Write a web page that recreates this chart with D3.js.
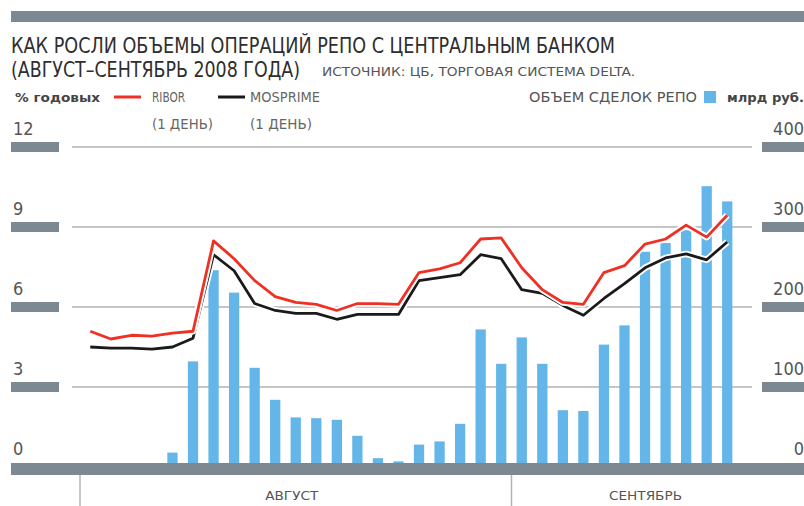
<!DOCTYPE html>
<html>
<head>
<meta charset="utf-8">
<script src="https://cdn.jsdelivr.net/npm/d3@7"></script>
<style>
  body { margin: 0; background: #fff; }
  svg { display: block; }
  text { font-family: "Liberation Sans Narrow", "Arial Narrow", "DejaVu Sans Condensed", "Liberation Sans", sans-serif; }
</style>
</head>
<body>
<svg width="804" height="506"></svg>
<script>
const svg = d3.select("svg");
const width = +svg.attr("width");
const height = +svg.attr("height");

/* ==========================
   DATA
========================== */

const months = ["АВГУСТ", "СЕНТЯБРЬ"];
const monthDays = [21, 11];

// RIBOR (1 day), % per year
const ribor = [5.09, 4.80, 4.94, 4.91, 5.02, 5.09, 8.48, 7.81, 6.99, 6.39, 6.17, 6.10, 5.87, 6.13, 6.13, 6.10,
               7.29, 7.43, 7.66, 8.55, 8.59, 7.47, 6.65, 6.17, 6.10, 7.29, 7.55, 8.36, 8.55, 9.07, 8.62, 9.44];
// MosPrime (1 day), % per year
const mosprime = [4.50, 4.46, 4.46, 4.42, 4.50, 4.83, 7.96, 7.36, 6.13, 5.87, 5.76, 5.76, 5.54, 5.72, 5.72, 5.72,
                  6.99, 7.10, 7.21, 7.96, 7.81, 6.65, 6.51, 6.06, 5.69, 6.32, 6.88, 7.47, 7.84, 7.99, 7.77, 8.44];
// repo volume, bn rub
const repo = [4, 3, 3, 3, 18, 132, 246, 218, 124, 84, 62, 61, 59, 39, 11, 7,
              28, 32, 54, 172, 129, 162, 129, 71, 70, 153, 177, 269, 280, 296, 351, 332];

const leftTicks = [0, 3, 6, 9, 12];
const rightTicks = [0, 100, 200, 300, 400];

/* ==========================
   SCALES
========================== */

const slate = "#7c8993";
const baseY = 467;
const topY = 147;

const x = d3.scaleBand()
    .domain(d3.range(repo.length))
    .range([80, 737.5])
    .paddingInner(0.5)
    .paddingOuter(0.25);

const yL = d3.scaleLinear().domain([0, 12]).range([baseY, topY]);
const yR = d3.scaleLinear().domain([0, 400]).range([baseY, topY]);

const cx = i => x(i) + x.bandwidth() / 2;

/* ==========================
   HEADER
========================== */

svg.append("rect")
    .attr("x", 11).attr("y", 11)
    .attr("width", width - 11).attr("height", 11)
    .attr("fill", slate);

function label(str, xx, yy, size, len, opts = {}) {
    const t = svg.append("text")
        .attr("x", xx).attr("y", yy)
        .attr("font-size", size)
        .attr("fill", opts.fill || "#333")
        .attr("font-weight", opts.weight || "normal")
        .text(str);
    if (len) t.attr("textLength", len).attr("lengthAdjust", "spacingAndGlyphs");
    if (opts.anchor) t.attr("text-anchor", opts.anchor);
    return t;
}

label("КАК РОСЛИ ОБЪЕМЫ ОПЕРАЦИЙ РЕПО С ЦЕНТРАЛЬНЫМ БАНКОМ", 11, 53, 21, 604, { fill: "#2e2e2e" });
label("(АВГУСТ–СЕНТЯБРЬ 2008 ГОДА)", 11, 77, 21, 289, { fill: "#2e2e2e" });
label("ИСТОЧНИК: ЦБ, ТОРГОВАЯ СИСТЕМА DELTA.", 322, 76, 12, 313, { fill: "#555" });

/* ==========================
   LEGEND
========================== */

label("% годовых", 15, 102, 13, 85, { fill: "#444", weight: "bold" });

svg.append("line").attr("x1", 114).attr("x2", 141).attr("y1", 97).attr("y2", 97)
    .attr("stroke", "#ee3124").attr("stroke-width", 3);
label("RIBOR", 152, 102, 14, 33, { fill: "#666" });
label("(1 ДЕНЬ)", 152, 129, 14, 61, { fill: "#666" });

svg.append("line").attr("x1", 218).attr("x2", 245).attr("y1", 97).attr("y2", 97)
    .attr("stroke", "#1a1a1a").attr("stroke-width", 3);
label("MOSPRIME", 250, 102, 14, 70, { fill: "#666" });
label("(1 ДЕНЬ)", 250, 129, 14, 62, { fill: "#666" });

label("ОБЪЕМ СДЕЛОК РЕПО", 529, 102, 14, 168, { fill: "#555" });
svg.append("rect").attr("x", 704).attr("y", 91).attr("width", 12).attr("height", 12)
    .attr("fill", "#64b5e8");
label("млрд руб.", 727, 102, 13, 77, { fill: "#444", weight: "bold" });

/* ==========================
   GRID + AXIS BLOCKS
========================== */

leftTicks.forEach((t, i) => {
    const yy = yL(t);
    if (t !== 0) {
        svg.append("line")
            .attr("x1", 72).attr("x2", 752)
            .attr("y1", yy).attr("y2", yy)
            .attr("stroke", "#b3b3b3").attr("stroke-width", 1.5);
        svg.append("rect").attr("x", 11).attr("y", yy - 5).attr("width", 48).attr("height", 10)
            .attr("fill", slate);
        svg.append("rect").attr("x", 762).attr("y", yR(rightTicks[i]) - 5).attr("width", 42).attr("height", 10)
            .attr("fill", slate);
    }
    label(String(t), 13, yy - 12, 18, null, { fill: "#555" });
    label(String(rightTicks[i]), 804, yR(rightTicks[i]) - 12, 18, null, { fill: "#555", anchor: "end" });
});

/* ==========================
   BARS
========================== */

svg.append("g")
    .selectAll("rect")
    .data(repo)
    .join("rect")
    .attr("x", (d, i) => x(i))
    .attr("width", x.bandwidth())
    .attr("y", d => yR(d))
    .attr("height", d => baseY - yR(d))
    .attr("fill", "#64b5e8");

/* ==========================
   LINES
========================== */

const line = d3.line()
    .x((d, i) => cx(i))
    .y(d => yL(d));

[[mosprime, "#1a1a1a"], [ribor, "#ee3124"]].forEach(([series, color]) => {
    svg.append("path")
        .datum(series)
        .attr("d", line)
        .attr("fill", "none")
        .attr("stroke", "#fff")
        .attr("stroke-width", 6.5)
        .attr("stroke-linejoin", "round");
    svg.append("path")
        .datum(series)
        .attr("d", line)
        .attr("fill", "none")
        .attr("stroke", color)
        .attr("stroke-width", 2.8)
        .attr("stroke-linejoin", "round");
});

/* ==========================
   BASE + MONTHS
========================== */

svg.append("rect")
    .attr("x", 11).attr("y", 463)
    .attr("width", width - 11).attr("height", 12)
    .attr("fill", slate);

let start = 0;
const seps = [x.range()[0]];
months.forEach((m, k) => {
    const end = start + monthDays[k];
    if (end < repo.length) seps.push((cx(end - 1) + cx(end)) / 2);
    start = end;
});

seps.forEach(sx => {
    svg.append("line")
        .attr("x1", sx).attr("x2", sx)
        .attr("y1", 475).attr("y2", height)
        .attr("stroke", "#b3b3b3").attr("stroke-width", 1.5);
});

const monthCenters = [(seps[0] + seps[1]) / 2 - 4, seps[1] + 134];
label(months[0], monthCenters[0], 500, 13, 53, { fill: "#555", anchor: "middle" });
label(months[1], monthCenters[1], 500, 13, 73, { fill: "#555", anchor: "middle" });
</script>
</body>
</html>
